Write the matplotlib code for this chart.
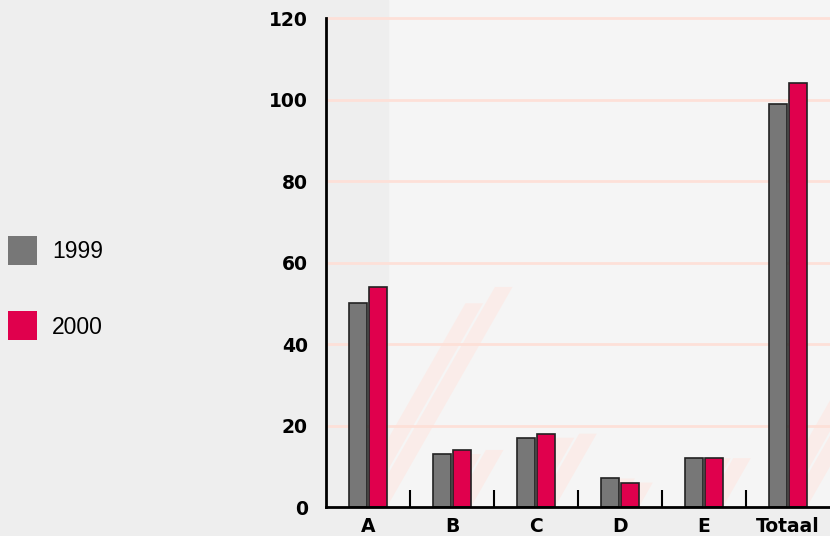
import matplotlib.pyplot as plt
from matplotlib.patches import Patch, Polygon
import numpy as np

categories = ['A', 'B', 'C', 'D', 'E', 'Totaal']
values_1999 = [50, 13, 17, 7, 12, 99]
values_2000 = [54, 14, 18, 6, 12, 104]
years = ['1999', '2000']
y_ticks = [0, 20, 40, 60, 80, 100, 120]

GREY = '#777777'
RED = '#e0004d'
SHADOW = '#fde9e4'


def generate_plot():
    fig = plt.figure(figsize=(8.3, 5.36), dpi=100, facecolor='#eeeeee')
    # axes run to the top of the figure; y=120 sits 18 px below the top
    ax = fig.add_axes([0.3928, 0.0541, 0.6072, 0.9459])
    ax.set_facecolor('#f5f5f5')

    x = np.arange(len(categories))
    width = 0.21
    gap = 0.03
    ax.set_xlim(-0.5, len(categories) - 0.5)
    ax.set_ylim(0, 120 * 0.9459 / 0.9123)

    # darker band behind the first group
    ax.axvspan(-0.5, 0.24, color='#eeeeee', zorder=0)

    for yv in y_ticks[1:]:
        ax.axhline(yv, color='#fde0d8', lw=2, zorder=1)

    offsets = [-(width + gap) / 2, (width + gap) / 2]
    series = [values_1999, values_2000]
    colors = [GREY, RED]

    # faint slanted shadows of the bars
    for off, vals in zip(offsets, series):
        for xi, v in zip(x, vals):
            left = xi + off - width / 2
            dx = 0.0277 * v
            poly = Polygon([(left, 0), (left + width, 0),
                            (left + width + dx, v), (left + dx, v)],
                           closed=True, facecolor=SHADOW, edgecolor='none',
                           alpha=0.7, zorder=0.5)
            ax.add_patch(poly)

    for off, vals, c in zip(offsets, series, colors):
        ax.bar(x + off, vals, width, color=c, edgecolor='#222222',
               linewidth=1.2, zorder=3)

    for s in ['top', 'right']:
        ax.spines[s].set_visible(False)
    for s in ['left', 'bottom']:
        ax.spines[s].set_linewidth(2)
        ax.spines[s].set_color('black')
        ax.spines[s].set_zorder(4)
    ax.spines['left'].set_bounds(0, 120)

    ax.set_yticks(y_ticks)
    ax.set_yticklabels([str(t) for t in y_ticks], fontsize=13.5,
                       fontweight='bold', family='DejaVu Sans')
    ax.tick_params(axis='y', length=0, pad=13)

    ax.set_xticks(x)
    ax.set_xticklabels(categories, fontsize=13.5, fontweight='bold',
                       family='DejaVu Sans')
    ax.set_xticks(x[:-1] + 0.5, minor=True)
    ax.tick_params(axis='x', which='major', length=0, pad=7)
    ax.tick_params(axis='x', which='minor', direction='in', length=12,
                   width=1.5, color='black')

    handles = [Patch(facecolor=GREY, edgecolor='none'),
               Patch(facecolor=RED, edgecolor='none')]
    fig.legend(handles, years, loc='center left',
               bbox_to_anchor=(8 / 830, 1 - 288 / 536), frameon=False,
               prop={'family': 'Liberation Sans', 'size': 16.5},
               handlelength=1.26, handleheight=1.57, handletextpad=0.65,
               labelspacing=2.05, borderpad=0, borderaxespad=0)
    return fig, ax


if __name__ == "__main__":
    fig, ax = generate_plot()
    fig.savefig('out.png', dpi=100, facecolor=fig.get_facecolor())
